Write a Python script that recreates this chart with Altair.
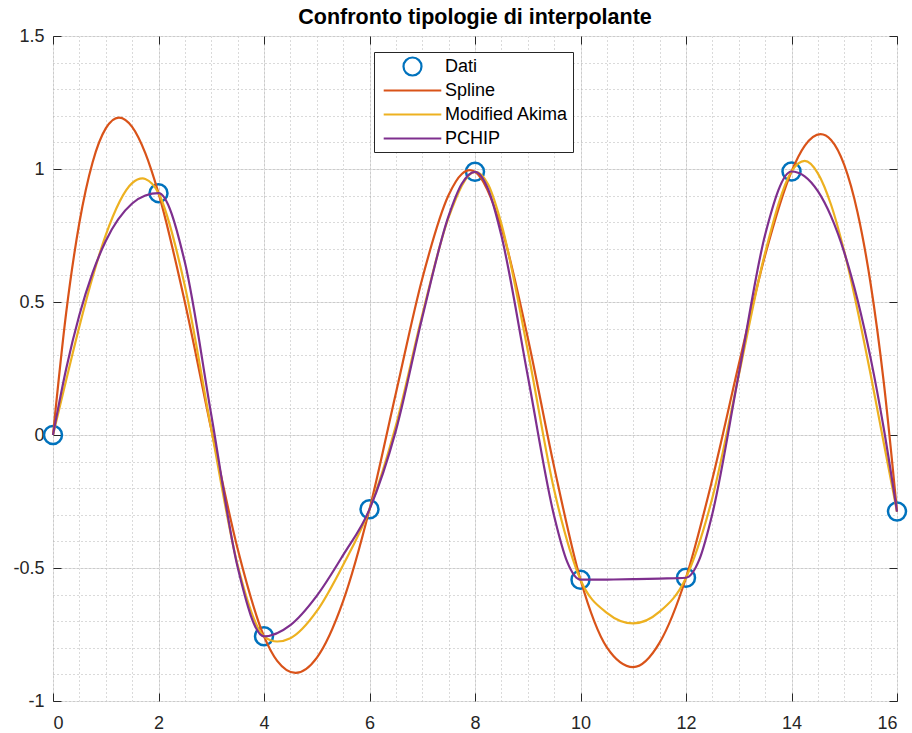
import altair as alt
import pandas as pd

# Nodes: sin(x) sampled at x = 0:2:16
x_dati = [0, 2, 4, 6, 8, 10, 12, 14, 16]
y_dati = [0.0, 0.9093, -0.7568, -0.2794, 0.9894, -0.5440, -0.5366, 0.9906, -0.2879]

# Cubic spline (not-a-knot) evaluated on a fine grid, local extrema included
x_spline = [0, 0.25, 0.5, 0.75, 1, 1.25, 1.5, 1.75, 2, 2.5, 3, 3.5, 4, 4.25, 4.6,
            5, 5.5, 6, 6.5, 7, 7.5, 7.75, 7.9, 8, 8.5, 9, 9.5, 10, 10.5, 11, 11.5,
            12, 12.5, 13, 13.5, 14, 14.25, 14.55, 14.75, 15, 15.25, 15.5, 15.75, 16]
y_spline = [0.0, 0.4601, 0.7977, 1.0246, 1.1525, 1.1932, 1.1584, 1.0598, 0.9093,
            0.4992, 0.0222, -0.4278, -0.7568, -0.8491, -0.8946, -0.8379, -0.6248,
            -0.2794, 0.1570, 0.5877, 0.9020, 0.9810, 0.9954, 0.9894, 0.7799, 0.3658,
            -0.1198, -0.5440, -0.7983, -0.8724, -0.7805, -0.5366, -0.1657, 0.2646,
            0.6762, 0.9906, 1.0870, 1.1309, 1.1090, 1.0151, 0.8383, 0.5687, 0.1965,
            -0.2879]

# Modified Akima interpolant
x_makima = [0, 0.25, 0.5, 0.75, 1, 1.5, 1.7, 1.75, 2, 2.5, 3, 3.5, 4, 4.25, 4.5, 5,
            5.5, 6, 6.5, 7, 7.5, 8, 8.25, 8.5, 9, 9.5, 10, 10.5, 11, 11.5, 12,
            12.5, 13, 13.5, 14, 14.25, 14.5, 14.75, 15, 15.5, 15.75, 16]
y_makima = [0.0, 0.2067, 0.4079, 0.5930, 0.7515, 0.9467, 0.9644, 0.9624, 0.9093,
            0.5605, 0.0222, -0.4891, -0.7568, -0.7764, -0.7640, -0.6624, -0.4887,
            -0.2794, 0.0353, 0.4508, 0.8183, 0.9894, 0.9416, 0.7942, 0.3178, -0.2062,
            -0.5440, -0.6684, -0.7083, -0.6642, -0.5366, -0.2358, 0.2238, 0.6850,
            0.9906, 1.0303, 0.9838, 0.8656, 0.6905, 0.2276, -0.0309, -0.2879]

# Piecewise cubic Hermite (PCHIP) interpolant
x_pchip = [0, 0.25, 0.5, 0.75, 1, 1.5, 1.75, 2, 2.5, 3, 3.5, 4, 4.5, 5, 5.5, 6,
           6.5, 7, 7.5, 7.75, 8, 8.25, 8.5, 9, 9.5, 9.75, 10, 10.5, 11, 11.5, 12,
           12.25, 12.5, 13, 13.5, 14, 14.25, 14.5, 14.75, 15, 15.5, 15.75, 16]
y_pchip = [0.0, 0.2493, 0.4510, 0.6095, 0.7293, 0.8702, 0.9003, 0.9093, 0.6490,
           0.0763, -0.4965, -0.7568, -0.7147, -0.6048, -0.4516, -0.2794, 0.0164,
           0.4417, 0.8237, 0.9444, 0.9894, 0.9235, 0.7498, 0.2227, -0.3044,
           -0.4781, -0.5440, -0.5435, -0.5421, -0.5398, -0.5366, -0.4696, -0.2959,
           0.2288, 0.7527, 0.9906, 0.9723, 0.9165, 0.8217, 0.6865, 0.2889, 0.0236,
           -0.2879]

serie_nomi = ["Dati", "Spline", "Modified Akima", "PCHIP"]
serie_colori = ["#0072BD", "#D95319", "#EDB120", "#7E2F8E"]

x_major = [0, 2, 4, 6, 8, 10, 12, 14, 16]
y_major = [-1, -0.5, 0, 0.5, 1, 1.5]
x_minor = [i * 0.5 for i in range(33)]
y_minor = [round(-1 + i * 0.1, 1) for i in range(26)]

W, H = 844, 665
FONT = "Liberation Sans"
INK = "#262626"

# legend glyphs: ring for markers, long stroke for lines
STROKE = "M-3.2,0H3.2"

df_dati = pd.DataFrame({"x": x_dati, "y": y_dati, "serie": "Dati"})
df_spline = pd.DataFrame({"x": x_spline, "y": y_spline, "serie": "Spline"})
df_makima = pd.DataFrame({"x": x_makima, "y": y_makima, "serie": "Modified Akima"})
df_pchip = pd.DataFrame({"x": x_pchip, "y": y_pchip, "serie": "PCHIP"})

xs = alt.Scale(domain=[0, 16], nice=False, zero=False)
ys = alt.Scale(domain=[-1, 1.5], nice=False, zero=False)
color_scale = alt.Scale(domain=serie_nomi, range=serie_colori)
shape_scale = alt.Scale(domain=serie_nomi, range=["circle", STROKE, STROKE, STROKE])

# main axes: labels + major grid
ax_x_main = alt.Axis(values=x_major, labelExpr="'' + datum.value", grid=True,
                     gridColor="#e2e2e2", gridWidth=1, domain=False, ticks=False,
                     labelFont=FONT, labelFontSize=18, labelColor=INK,
                     labelPadding=13, title=None, orient="bottom")
ax_y_main = alt.Axis(values=y_major, labelExpr="'' + datum.value", grid=True,
                     gridColor="#e2e2e2", gridWidth=1, domain=False, ticks=False,
                     labelFont=FONT, labelFontSize=18, labelColor=INK,
                     labelPadding=9, title=None, orient="left")

# minor dotted grid
ax_x_minor = alt.Axis(values=x_minor, grid=True, gridColor="#b5b5b5", gridDash=[1, 3],
                      gridWidth=1, domain=False, ticks=False, labels=False,
                      title=None, orient="bottom")
ax_y_minor = alt.Axis(values=y_minor, grid=True, gridColor="#b5b5b5", gridDash=[1, 3],
                      gridWidth=1, domain=False, ticks=False, labels=False,
                      title=None, orient="left")


def tick_axis(vals, orient, shift):
    # axis moved across the plot so that its ticks point into the box
    return alt.Axis(values=vals, grid=False, domain=False, ticks=True, tickSize=8,
                    tickColor=INK, tickWidth=1, labels=False, title=None,
                    orient=orient, offset=-shift)


punti = alt.Chart(df_dati).mark_point(filled=False, strokeWidth=2.5, size=324, opacity=1).encode(
    x=alt.X("x:Q", scale=xs, axis=ax_x_main),
    y=alt.Y("y:Q", scale=ys, axis=ax_y_main),
    color=alt.Color("serie:N", scale=color_scale, legend=alt.Legend(
        title=None, orient="none", legendX=321, legendY=16,
        strokeColor=INK, fillColor="white", padding=4,
        labelFont=FONT, labelFontSize=18, labelColor="black",
        symbolSize=324, symbolStrokeWidth=2.2, symbolOffset=24,
        labelOffset=22, rowPadding=-1, gridAlign="all",
        symbolFillColor="transparent")),
    shape=alt.Shape("serie:N", scale=shape_scale, legend=alt.Legend(
        title=None, orient="none", legendX=321, legendY=16)),
)

spline = alt.Chart(df_spline).mark_line(strokeWidth=2.2, interpolate="monotone").encode(
    x=alt.X("x:Q", scale=xs, axis=ax_x_minor),
    y=alt.Y("y:Q", scale=ys, axis=ax_y_minor),
    color=alt.Color("serie:N", scale=color_scale, legend=None),
)

makima = alt.Chart(df_makima).mark_line(strokeWidth=2.2, interpolate="monotone").encode(
    x=alt.X("x:Q", scale=xs, axis=tick_axis(x_major, "top", H)),
    y=alt.Y("y:Q", scale=ys, axis=tick_axis(y_major, "right", W)),
    color=alt.Color("serie:N", scale=color_scale, legend=None),
)

pchip = alt.Chart(df_pchip).mark_line(strokeWidth=2.2, interpolate="monotone").encode(
    x=alt.X("x:Q", scale=xs, axis=tick_axis(x_major, "bottom", H)),
    y=alt.Y("y:Q", scale=ys, axis=tick_axis(y_major, "left", W)),
    color=alt.Color("serie:N", scale=color_scale, legend=None),
)

chart = alt.layer(punti, spline, makima, pchip).resolve_axis(
    x="independent", y="independent"
).properties(
    width=W, height=H,
    title=alt.TitleParams("Confronto tipologie di interpolante", font=FONT,
                          fontSize=21.5, fontWeight="bold", color="black",
                          anchor="middle", offset=-1),
    autosize=alt.AutoSizeParams(type="none"),
    padding={"left": 53, "top": 36, "right": 15, "bottom": 32},
    background="white",
).configure_view(stroke=INK, strokeWidth=1)

chart.save("out.html", embed_options={"renderer": "svg", "actions": False})
